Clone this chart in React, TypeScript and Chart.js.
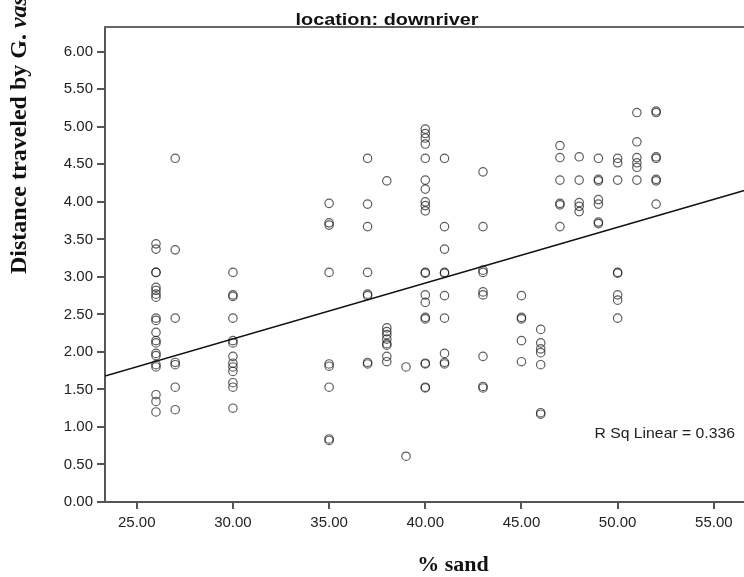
import React, { useEffect, useRef } from "react";
import { Chart, registerables } from "chart.js";

Chart.register(...registerables);

// ---- data ----
const sandLevels = [26, 27, 30, 35, 37, 38, 39, 40, 41, 43, 45, 46, 47, 48, 49, 50, 51, 52];

const dist26 = [3.44, 3.37, 3.06, 3.06, 2.86, 2.82, 2.77, 2.73, 2.45, 2.42, 2.26, 2.15, 2.12, 1.98, 1.95, 1.83, 1.80, 1.43, 1.34, 1.20];
const dist27 = [4.58, 3.36, 2.45, 1.86, 1.83, 1.53, 1.23];
const dist30 = [3.06, 2.76, 2.74, 2.45, 2.15, 2.12, 1.94, 1.85, 1.80, 1.74, 1.59, 1.53, 1.25];
const dist35 = [3.98, 3.72, 3.69, 3.06, 1.84, 1.81, 1.53, 0.84, 0.82];
const dist37 = [4.58, 3.97, 3.67, 3.06, 2.77, 2.75, 1.86, 1.84];
const dist38 = [4.28, 2.32, 2.27, 2.23, 2.17, 2.11, 2.09, 1.94, 1.87];
const dist39 = [1.80, 0.61];
const dist40 = [4.97, 4.91, 4.85, 4.77, 4.58, 4.29, 4.17, 4.00, 3.95, 3.88, 3.06, 3.05, 2.76, 2.66, 2.46, 2.44, 1.85, 1.84, 1.53, 1.52];
const dist41 = [4.58, 3.67, 3.37, 3.06, 3.05, 2.75, 2.45, 1.98, 1.86, 1.84];
const dist43 = [4.40, 3.67, 3.09, 3.06, 2.80, 2.76, 1.94, 1.54, 1.52];
const dist45 = [2.75, 2.46, 2.44, 2.15, 1.87];
const dist46 = [2.30, 2.12, 2.04, 1.99, 1.83, 1.19, 1.17];
const dist47 = [4.75, 4.59, 4.29, 3.98, 3.96, 3.67];
const dist48 = [4.60, 4.29, 3.99, 3.94, 3.87];
const dist49 = [4.58, 4.30, 4.28, 4.03, 3.97, 3.73, 3.71];
const dist50 = [4.58, 4.52, 4.29, 3.06, 3.05, 2.76, 2.69, 2.45];
const dist51 = [5.19, 4.80, 4.59, 4.52, 4.46, 4.29];
const dist52 = [5.21, 5.19, 4.60, 4.58, 4.30, 4.28, 3.97];

const distanceBySand = [
  dist26, dist27, dist30, dist35, dist37, dist38, dist39, dist40, dist41,
  dist43, dist45, dist46, dist47, dist48, dist49, dist50, dist51, dist52,
];

// fit line and its R²
const fitIntercept = -0.058;
const fitSlope = 0.0744;
const rSquared = "0.336";

const xTickValues = [25, 30, 35, 40, 45, 50, 55];
const yTickValues = [0, 0.5, 1, 1.5, 2, 2.5, 3, 3.5, 4, 4.5, 5, 5.5, 6];

const titleText = "location: downriver";
const xTitle = "% sand";
const yTitleMain = "Distance traveled by ";
const yTitleUpright = "G. ";
const yTitleItalic = "vas";

const X_MIN = 23.35;
const X_MAX = 57.12;
const Y_MIN = 0;
const Y_MAX = 6.33;

const SANS = '"Liberation Sans", Arial, sans-serif';
const SERIF = '"Liberation Serif", "Times New Roman", serif';

const textPlugin = {
  id: "spssText",
  afterDraw(chart: any) {
    const { ctx, chartArea } = chart;
    ctx.save();
    // top frame line
    ctx.strokeStyle = "#666";
    ctx.lineWidth = 2;
    ctx.beginPath();
    ctx.moveTo(chartArea.left - 1, chartArea.top);
    ctx.lineTo(chart.width, chartArea.top);
    ctx.stroke();

    // title (horizontally stretched like the reference)
    ctx.save();
    ctx.fillStyle = "#111";
    ctx.font = `bold 16px ${SANS}`;
    ctx.textAlign = "center";
    ctx.textBaseline = "alphabetic";
    ctx.translate(387, 25);
    ctx.scale(1.24, 1);
    ctx.fillText(titleText, 0, 0);
    ctx.restore();

    // x title
    ctx.fillStyle = "#111";
    ctx.textAlign = "center";
    ctx.textBaseline = "alphabetic";
    ctx.font = `bold 22px ${SERIF}`;
    ctx.fillText(xTitle, 453, 571);

    // R squared annotation
    ctx.save();
    ctx.font = `15px ${SANS}`;
    ctx.textAlign = "right";
    ctx.fillStyle = "#222";
    ctx.translate(735, 438);
    ctx.scale(1.05, 1);
    ctx.fillText(`R Sq Linear = ${rSquared}`, 0, 0);
    ctx.restore();

    // y title
    ctx.fillStyle = "#111";
    ctx.translate(26, 274);
    ctx.rotate(-Math.PI / 2);
    ctx.textAlign = "left";
    ctx.font = `bold 24px ${SERIF}`;
    ctx.fillText(yTitleMain, 0, 0);
    let off = ctx.measureText(yTitleMain).width;
    ctx.fillText(yTitleUpright, off, 0);
    off += ctx.measureText(yTitleUpright).width;
    ctx.font = `italic bold 24px ${SERIF}`;
    ctx.fillText(yTitleItalic, off, 0);
    ctx.restore();
  },
};

export default function App() {
  const canvasRef = useRef<HTMLCanvasElement>(null);

  useEffect(() => {
    const canvas = canvasRef.current;
    if (!canvas) return;

    const points: { x: number; y: number }[] = [];
    sandLevels.forEach((s, i) => {
      distanceBySand[i].forEach((d) => points.push({ x: s, y: d }));
    });

    const fitLine = [
      { x: X_MIN, y: fitIntercept + fitSlope * X_MIN },
      { x: X_MAX, y: fitIntercept + fitSlope * X_MAX },
    ];

    const chart = new Chart(canvas, {
      type: "scatter",
      data: {
        datasets: [
          {
            type: "scatter",
            data: points,
            pointStyle: "circle",
            pointRadius: 4.2,
            pointBorderWidth: 1.2,
            pointBackgroundColor: "rgba(0,0,0,0)",
            pointBorderColor: "rgba(30,30,30,0.72)",
            order: 2,
          } as any,
          {
            type: "line",
            data: fitLine,
            borderColor: "#111",
            borderWidth: 1.5,
            pointRadius: 0,
            fill: false,
            order: 1,
          } as any,
        ],
      },
      options: {
        responsive: false,
        animation: false,
        layout: { padding: { top: 27, right: 0, left: 0, bottom: 0 } },
        plugins: {
          legend: { display: false },
          tooltip: { enabled: false },
          title: { display: false },
        },
        scales: {
          x: {
            type: "linear",
            min: X_MIN,
            max: X_MAX,
            afterBuildTicks: (s: any) => {
              s.ticks = xTickValues.map((v) => ({ value: v }));
            },
            afterFit: (s: any) => {
              s.height = 75;
            },
            ticks: {
              callback: (v: any) => Number(v).toFixed(2),
              font: { family: SANS, size: 15 },
              color: "#222",
              padding: 5,
              maxRotation: 0,
              autoSkip: false,
            },
            grid: {
              display: true,
              drawOnChartArea: false,
              drawTicks: true,
              tickLength: 7,
              color: "#555",
              lineWidth: 2,
            },
            border: { display: true, color: "#555", width: 2 },
          },
          y: {
            type: "linear",
            min: Y_MIN,
            max: Y_MAX,
            afterBuildTicks: (s: any) => {
              s.ticks = yTickValues.map((v) => ({ value: v }));
            },
            afterFit: (s: any) => {
              s.width = 105;
            },
            ticks: {
              callback: (v: any) => Number(v).toFixed(2),
              font: { family: SANS, size: 15 },
              color: "#222",
              padding: 4,
              autoSkip: false,
            },
            grid: {
              display: true,
              drawOnChartArea: false,
              drawTicks: true,
              tickLength: 8,
              color: "#555",
              lineWidth: 2,
            },
            border: { display: true, color: "#555", width: 2 },
          },
        },
      } as any,
      plugins: [textPlugin],
    });

    return () => chart.destroy();
  }, []);

  return (
    <div
      style={{
        position: "absolute",
        left: 0,
        top: 0,
        width: 744,
        height: 577,
        overflow: "hidden",
        background: "#fff",
      }}
    >
      <canvas ref={canvasRef} width={760} height={577} style={{ display: "block" }} />
    </div>
  );
}
